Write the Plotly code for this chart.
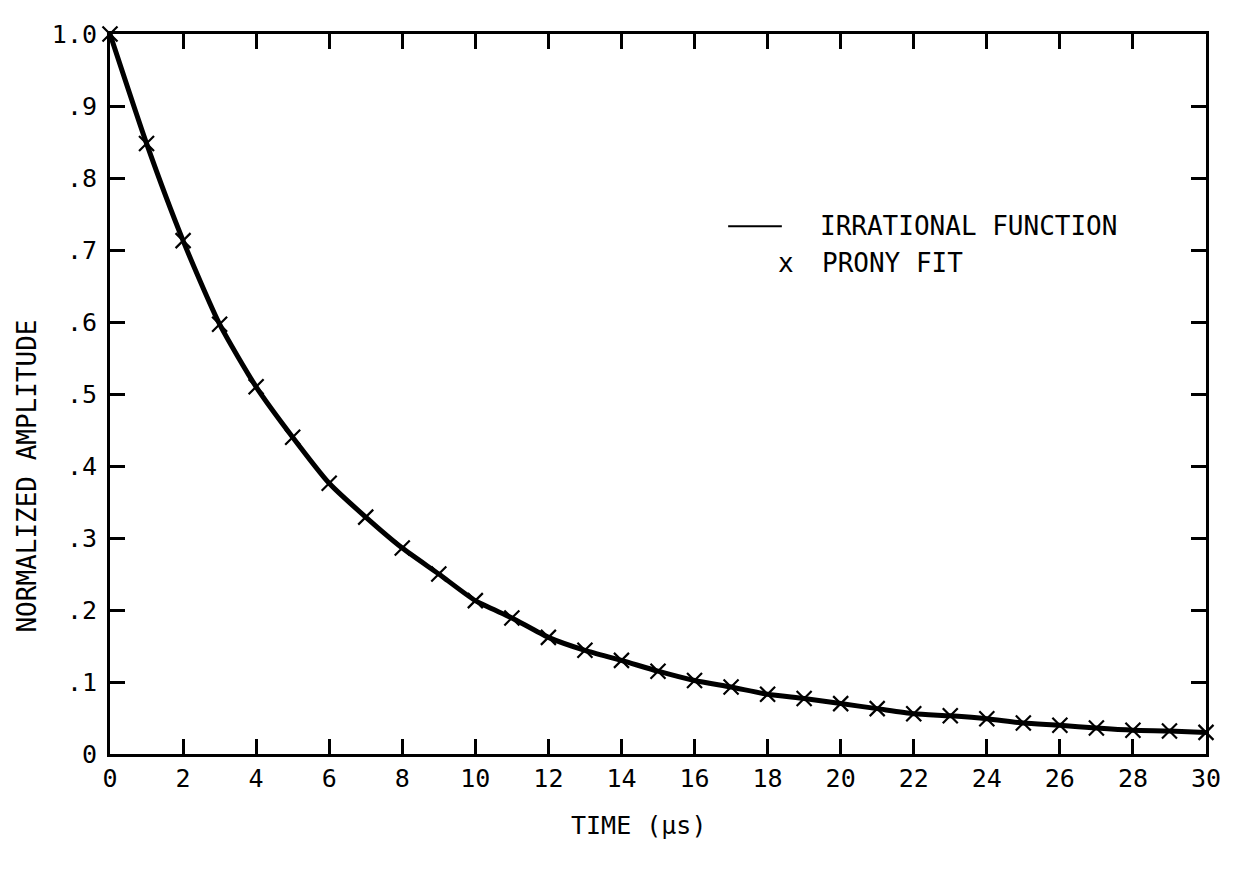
import plotly.graph_objects as go

# Data
time_us = list(range(0, 31))
prony_fit = [1.000, 0.848, 0.713, 0.597, 0.510, 0.440, 0.376, 0.329, 0.286, 0.250,
             0.213, 0.189, 0.162, 0.144, 0.130, 0.115, 0.102, 0.093, 0.083, 0.077,
             0.070, 0.063, 0.056, 0.053, 0.049, 0.043, 0.040, 0.036, 0.033, 0.032,
             0.030]
irrational = [1.000, 0.848, 0.713, 0.597, 0.510, 0.440, 0.376, 0.329, 0.286, 0.250,
              0.213, 0.189, 0.162, 0.144, 0.130, 0.115, 0.102, 0.093, 0.083, 0.077,
              0.070, 0.063, 0.056, 0.053, 0.049, 0.043, 0.040, 0.036, 0.033, 0.032,
              0.030]

x_tickvals = list(range(0, 31, 2))
x_ticktext = [str(v) for v in x_tickvals]
y_tickvals = [0, 0.1, 0.2, 0.3, 0.4, 0.5, 0.6, 0.7, 0.8, 0.9, 1.0]
y_ticktext = ["0", ".1", ".2", ".3", ".4", ".5", ".6", ".7", ".8", ".9", "1.0"]

FONT = "DejaVu Sans Mono"

fig = go.Figure()
fig.add_trace(go.Scatter(
    x=time_us, y=irrational, mode="lines", name="IRRATIONAL FUNCTION",
    line=dict(color="black", width=5, shape="spline", smoothing=0.6),
    showlegend=False,
))
fig.add_trace(go.Scatter(
    x=time_us, y=prony_fit, mode="markers", name="PRONY FIT",
    marker=dict(symbol="x-thin", size=15, color="black",
                line=dict(color="black", width=2.2)),
    showlegend=False, cliponaxis=False,
))

axis_common = dict(
    showline=True, linecolor="black", linewidth=3, mirror="allticks",
    ticks="inside", ticklen=15, tickwidth=3, tickcolor="black",
    showgrid=False, zeroline=False,
    tickfont=dict(family=FONT, size=25, color="black"),
)

fig.update_xaxes(range=[0, 30], tickvals=x_tickvals, ticktext=x_ticktext,
                 ticklabelstandoff=0, **axis_common)
fig.update_yaxes(range=[0, 1.0], tickvals=y_tickvals, ticktext=y_ticktext,
                 ticklabelstandoff=5, **axis_common)

# Legend drawn like the original typed key
fig.add_shape(type="line", xref="paper", yref="paper",
              x0=0.564, x1=0.613, y0=0.733, y1=0.733,
              line=dict(color="black", width=2))
fig.add_annotation(xref="paper", yref="paper", x=0.646, y=0.733,
                   text="IRRATIONAL FUNCTION", showarrow=False,
                   xanchor="left", yanchor="middle",
                   font=dict(family=FONT, size=26, color="black"))
fig.add_annotation(xref="paper", yref="paper", x=0.617, y=0.682,
                   text="x", showarrow=False, xanchor="center", yanchor="middle",
                   font=dict(family=FONT, size=26, color="black"))
fig.add_annotation(xref="paper", yref="paper", x=0.648, y=0.682,
                   text="PRONY FIT", showarrow=False,
                   xanchor="left", yanchor="middle",
                   font=dict(family=FONT, size=26, color="black"))

# Axis titles
fig.add_annotation(xref="paper", yref="paper", x=(638 - 110) / 1096, y=(754 - 826) / 724,
                   text="TIME (µs)", showarrow=False, xanchor="center", yanchor="middle",
                   font=dict(family=FONT, size=25, color="black"))
fig.add_annotation(xref="paper", yref="paper", x=(27 - 110) / 1096, y=(754 - 475) / 724,
                   text="NORMALIZED AMPLITUDE", showarrow=False, textangle=-90,
                   xanchor="center", yanchor="middle",
                   font=dict(family=FONT, size=26, color="black"))

# the page body adds an 8px offset; margins compensate so the plot area
# lands at x 110..1206, y 30..754 in the window
fig.update_layout(
    width=1236, height=875,
    margin=dict(l=102, r=38, t=22, b=129),
    paper_bgcolor="white", plot_bgcolor="white",
    font=dict(family=FONT, color="black"),
)

fig.write_html("out.html")
